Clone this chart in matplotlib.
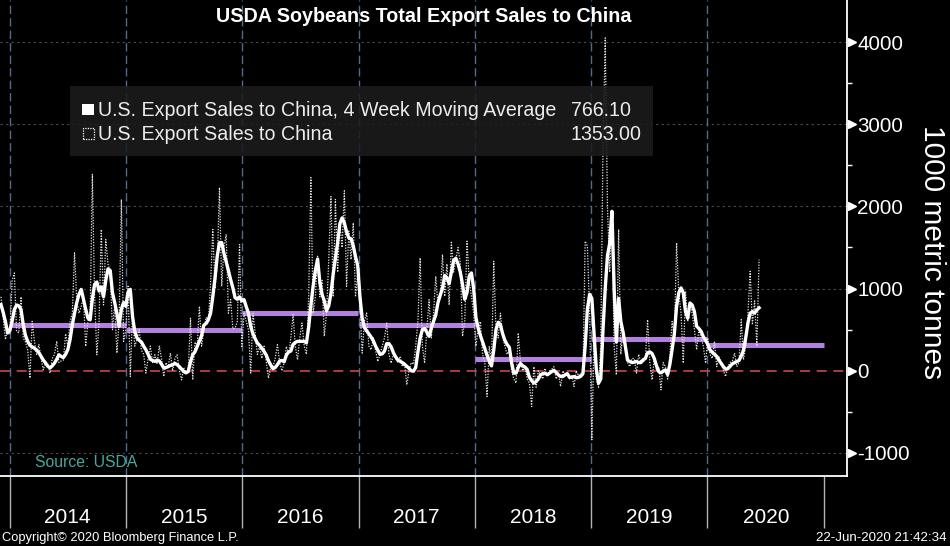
import matplotlib
matplotlib.use("Agg")
import matplotlib.pyplot as plt
import matplotlib.transforms as mtrans
from matplotlib.patches import Rectangle
import numpy as np
import pandas as pd

plt.rcParams['font.family'] = ['Liberation Sans', 'DejaVu Sans']

# ---------------- data ----------------
start_date = "2013-12-05"   # first weekly observation

# 4 week moving average (1000 metric tonnes), weekly
ma_a = [805, 710, 600, 460, 490, 600, 745, 800, 790, 745,
        560, 430, 358, 310, 290, 276, 250, 220, 175, 130,
        95, 55, 35, 60, 93, 140, 195, 175, 160, 200,
        260, 380, 560, 700, 830, 930, 990, 870, 750, 640,
        620, 880, 1050, 1080, 970, 1020, 900, 1100, 1240, 1220,
        950, 830, 700, 540, 750, 830, 785, 960, 990, 663,
        480, 400, 370, 350, 300, 256, 200, 140, 125, 115]
ma_b = [130, 120, 80, 35, 40, 50, 65, 73, 90, 75,
        50, 20, -10, -25, -10, 110, 195, 230, 295, 360,
        430, 555, 575, 620, 700, 900, 1130, 1394, 1560, 1560,
        1430, 1330, 1220, 1110, 1010, 890, 870, 900, 850, 866,
        780, 700, 541, 450, 390, 337, 310, 275, 236, 190,
        120, 70, 25, 40, 75, 120, 125, 110, 190, 230,
        240, 320, 345, 358, 358, 358, 358, 340]
ma_c = [530, 800, 1030, 1220, 1360, 1080, 930, 850, 730, 790,
        940, 1180, 1370, 1560, 1790, 1860, 1800, 1690, 1618, 1605,
        1520, 1390, 1280, 900, 640, 530, 485, 450, 410, 365,
        300, 250, 200, 205, 240, 330, 330, 290, 220, 170,
        130, 115, 100, 80, 55, 30, 0, -5, 40, 230,
        400, 500, 515, 470, 420, 520, 600, 680, 830, 920,
        1000, 1160, 1130, 1060, 1200, 1340, 1370]
ma_d = [1300, 1200, 1050, 870, 950, 1150, 1190, 1000, 650, 520,
        430, 350, 270, 190, 120, 60, 250, 500, 590, 560,
        450, 370, 320, 285, 100, -28, -28, 40, 90, 60,
        45, 15, -80, -120, -150, -130, -100, -50, -35, -30,
        -48, -30, -10, 5, -20, -50, -69, -69, -50, -35,
        -80, -78, -70, -85, -80, -68, -35, 300, 750, 930,
        880, 450, 20, -150, -100, 500, 1000]
ma_e = [1400, 1550, 1940, 1000, 350, 880, 600, 470, 300, 130,
        114, 100, 105, 114, 100, 100, 134, 150, 220, 230,
        210, 150, 60, -10, -25, -5, 10, -45, 80, 260,
        450, 785, 950, 1008, 950, 720, 640, 825, 800, 720,
        541, 515, 480, 415, 370, 320, 256, 225, 200, 175,
        130, 90, 50, 20, 25, 55, 85, 100, 114, 125,
        180, 250, 400, 580, 700, 720, 703, 740, 766.1]

# weekly export sales (1000 metric tonnes)
raw_a = [900, 650, 380, 500, 450, 1100, 1190, 480, 460, 900,
         400, 350, 250, -90, 600, 360, 200, 320, 150, 12,
         100, 80, -30, 150, 200, 360, 100, 120, 130, 450,
         300, 600, 700, 1435, 850, 700, 785, 900, 297, 600,
         700, 2390, 900, 195, 600, 1720, 800, 1598, 1300, 1200,
         500, 800, 215, 600, 2085, 358, 500, 1028, -70, 700,
         300, 378, 500, 250, 200, -28, 150, 300, 100, 195]
raw_b = [80, 300, 150, -70, 100, 50, 215, 0, 150, 195,
         0, -110, 40, -30, 10, 640, -110, 350, 300, 785,
         300, 500, 650, 600, 1050, 1720, 1000, 1300, 2230, 1028,
         1500, 1660, 700, 866, 510, 520, 600, 1536, 297, 700,
         600, 500, -28, 700, 460, 200, 297, 150, 300, 100,
         -90, 50, 50, 150, 317, 100, 0, 100, 297, 200,
         400, 683, 300, 134, 400, 581, 300, 200]
raw_c = [900, 2350, 700, 900, 1394, 900, 1100, 420, 700, 1350,
         2120, 900, 2085, 1200, 1800, 1500, 2190, 1028, 1700, 1354,
         1800, 900, 1200, 785, 215, 600, 703, 300, 256, 400,
         250, 114, 200, 300, 400, 581, 200, 93, 200, 150,
         100, 175, 50, 100, -170, 0, 100, 80, 300, 600,
         1374, 300, 93, 500, 866, 400, 700, 1150, 800, 900,
         1415, 906, 1300, 800, 1577, 1200, 1354]
raw_d = [1500, 1313, 419, 600, 1577, 1100, 906, 700, 300, 500,
         600, 200, 100, -313, 300, 100, 1333, 500, 400, 700,
         419, 300, 200, 250, 0, -100, -150, 460, 100, 0,
         50, -100, -150, -435, 50, -200, 0, -50, -100, 30,
         -70, 0, 20, 50, -100, -30, -191, 0, -50, -20,
         -100, -50, -191, 0, -60, -30, -50, 1577, 1516, 700,
         -840, 400, -100, -200, 300, 2735, 4050]
raw_e = [2000, 1200, 1880, 300, -50, 1720, 200, 500, 378, 100,
         50, 150, 150, -28, 200, 100, 100, 150, 622, 100,
         -110, 150, 0, 50, -232, 100, 50, -100, 200, 600,
         400, 1557, 947, 700, 93, 967, 600, 825, 700, 500,
         256, 500, 400, 300, 93, 400, 200, 150, 358, 50,
         175, 100, 0, -70, 50, 100, 120, 215, 50, 100,
         622, 134, 300, 700, 1210, 560, 850, 300, 1353]

years = [2014, 2015, 2016, 2017, 2018, 2019, 2020]
year_avg = [561, 496, 703, 561, 142, 386, 317]
y_ticks = [-1000, 0, 1000, 2000, 3000, 4000]
y_minor = [-500, 500, 1500, 2500, 3500]

title = "USDA Soybeans Total Export Sales to China"
name_ma = "U.S. Export Sales to China, 4 Week Moving Average"
name_raw = "U.S. Export Sales to China"

# ---------------- build ----------------
ma = np.array(ma_a + ma_b + ma_c + ma_d + ma_e, dtype=float)
raw = np.array(raw_a + raw_b + raw_c + raw_d + raw_e, dtype=float)
dates = pd.date_range(start_date, periods=len(ma), freq="7D")

W, H = 950, 546
fig = plt.figure(figsize=(W / 100, H / 100), dpi=100, facecolor="black")
ax_bottom_px = 476
ax_right_px = 847
ax = fig.add_axes([0, 1 - ax_bottom_px / H, ax_right_px / W, ax_bottom_px / H])
ax.set_facecolor("black")

ax.set_xlim(pd.Timestamp("2013-12-02"), pd.Timestamp("2021-03-14"))
ax.set_ylim(-1280, 4511)

# grid
for v in y_ticks:
    if v != 0:
        ax.axhline(v, color="#4d4d4d", lw=0.8, ls=(0, (2, 3)), zorder=1)
ax.axhline(0, color="#c84848", lw=1.2, ls=(0, (6, 4)), zorder=2)
for y in years:
    ax.axvline(pd.Timestamp(f"{y}-01-01"), color="#526a8c", lw=1.0,
               ls=(0, (6, 3)), zorder=1)

# yearly averages
starts = [pd.Timestamp(f"{y}-01-01") for y in years]
ends = [pd.Timestamp(f"{y}-12-31") for y in years]
ax.hlines(year_avg, starts, ends, color="#b37fe0", lw=3.6, zorder=3)

# series
ax.plot(dates, raw, color="#e4e4e4", lw=0.9, ls=(0, (1, 1.2)), zorder=4)
ax.plot(dates, ma, color="white", lw=2.4, zorder=5, solid_joinstyle="round")

# spines
for s in ["left", "top"]:
    ax.spines[s].set_visible(False)
for s in ["right", "bottom"]:
    ax.spines[s].set_color("white")
    ax.spines[s].set_linewidth(1.3)

# y axis (right)
ax.yaxis.tick_right()
ax.set_yticks(y_ticks)
ax.set_yticklabels([str(v) for v in y_ticks])
ax.set_yticks(y_minor, minor=True)
ax.tick_params(axis="y", which="major", length=0, pad=7.5, labelsize=14.8,
               labelcolor="white")
ax.tick_params(axis="y", which="minor", length=3.8, width=1, color="white",
               direction="out")
tr = mtrans.blended_transform_factory(ax.transAxes, ax.transData)
ax.plot([1.0 + 5 / ax_right_px] * len(y_ticks), y_ticks, ls="none",
        marker=">", ms=5.5, color="white", transform=tr, clip_on=False,
        zorder=6)

# x axis: separators and year labels
ax.set_xticks([])
trx = mtrans.blended_transform_factory(ax.transData, ax.transAxes)
sep = [pd.Timestamp(f"{y}-01-01") for y in years + [years[-1] + 1]]
ax.vlines(sep, 0, -(528 - ax_bottom_px) / ax_bottom_px, color="#b4b4b4",
          lw=1, transform=trx, clip_on=False)
for y in years:
    mid = pd.Timestamp(f"{y}-07-02")
    ax.text(mid, -(523.3 - ax_bottom_px) / ax_bottom_px, str(y),
            transform=trx, ha="center", va="baseline", color="white",
            fontsize=15, clip_on=False)

# title
fig.text(424 / W, 1 - 16 / H, title, ha="center", va="center",
         color="white", fontsize=14.2, fontweight="bold")

# legend box
fig.add_artist(Rectangle((70 / W, 1 - 155.6 / H), (652.7 - 70) / W,
                         (155.6 - 86) / H, transform=fig.transFigure,
                         facecolor=(0.11, 0.11, 0.11, 0.88), edgecolor="none",
                         zorder=10))
fig.add_artist(Rectangle((82 / W, 1 - 115 / H), 12 / W, 11 / H,
                         transform=fig.transFigure, facecolor="white",
                         edgecolor="none", zorder=11))
fig.add_artist(Rectangle((82.5 / W, 1 - 139 / H), 11 / W, 11 / H,
                         transform=fig.transFigure, facecolor="none",
                         edgecolor="white", lw=0.9, ls=(0, (1, 1)), zorder=11))
fig.text(98 / W, 1 - 110 / H, name_ma, ha="left", va="center",
         color="#ececec", fontsize=14.1, zorder=12)
fig.text(571 / W, 1 - 110 / H, f"{ma[-1]:.2f}", ha="left", va="center",
         color="#ececec", fontsize=14.1, zorder=12)
fig.text(98 / W, 1 - 134 / H, name_raw, ha="left", va="center",
         color="#ececec", fontsize=14.1, zorder=12)
fig.text(571 / W, 1 - 134 / H, f"{raw[-1]:.2f}", ha="left", va="center",
         color="#ececec", fontsize=14.1, zorder=12)

# source
fig.text(35 / W, 1 - 462.5 / H, "Source: USDA", ha="left", va="center",
         color="#46a89c", fontsize=11.3)

# y label
fig.text(932 / W, 1 - 252 / H, "1000 metric tonnes", rotation=270,
         ha="center", va="center", color="white", fontsize=21.5)

# footer
fig.text(2 / W, 1 - 538 / H, "Copyright\u00a9 2020 Bloomberg Finance L.P.",
         ha="left", va="center", color="white", fontsize=9.3)
fig.text(946 / W, 1 - 538 / H, "22-Jun-2020 21:42:34", ha="right",
         va="center", color="white", fontsize=9.6)

fig.savefig("out.png", dpi=100, facecolor="black")
